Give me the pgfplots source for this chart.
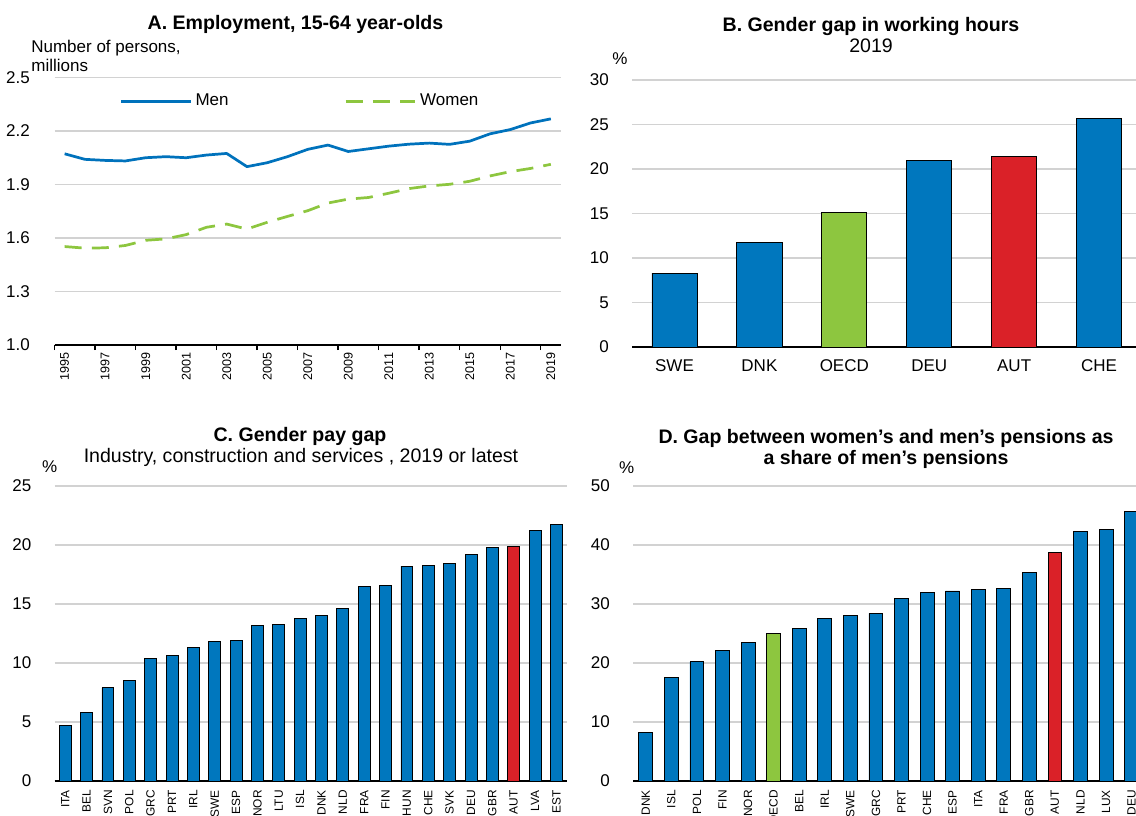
\documentclass[border=0pt]{standalone}
\usepackage{fontspec}
\setmainfont{Liberation Sans}
\usepackage{graphicx}
\usepackage{pgfplots}
\pgfplotsset{compat=1.18}
\definecolor{oblue}{RGB}{0,119,190}
\definecolor{ored}{RGB}{218,33,40}
\definecolor{ogreen}{RGB}{141,198,63}
\definecolor{lblue}{RGB}{0,114,188}
\newcommand\ttl{\bfseries\fontsize{11.5}{13}\selectfont}
\newcommand\sub{\fontsize{11.5}{13}\selectfont}
\pgfplotsset{
 oecd/.style={
  scale only axis,
  axis x line=bottom, axis y line=left,
  axis line style={-},
  y axis line style={draw=none},
  x axis line style={black, line width=0.8pt},
  ytick style={draw=none},
  ymajorgrids, grid style={gray!35, line width=0.8pt},
  yticklabel style={xshift=-8pt},
  /pgf/number format/assume math mode=true,
  tick label style={font=\fontsize{10}{12}\selectfont},
 },
 barp/.style={
  oecd, ybar, bar shift=0pt, ymin=0, xmin=-0.5,
  xtick style={draw=none},
  every axis plot/.append style={draw=black, line width=0.5pt},
 },
 rotlab/.style={xticklabel style={rotate=90, anchor=east, inner sep=1pt, font=\fontsize{7}{8}\selectfont}},
}
\begin{document}
\begin{tikzpicture}
% ---------------- Panel A
\begin{axis}[oecd, at={(32.05pt,276.36pt)}, anchor=south west,
 width=297.8pt, height=157.3pt,
 xmin=1994.5, xmax=2019.5, ymin=1, ymax=2.5,
 ytick={1,1.3,1.6,1.9,2.2,2.5},
 yticklabel style={/pgf/number format/.cd, fixed, fixed zerofill, precision=1},
 xtick={1994.5,1996.5,...,2018.5}, xticklabels={},
 tick align=outside, major tick length=3pt,
 xtick style={black, line width=0.8pt},
 extra x ticks={1995,1997,...,2019},
 extra x tick labels={1995,1997,1999,2001,2003,2005,2007,2009,2011,2013,2015,2017,2019},
 extra x tick style={major tick length=0pt, xticklabel style={rotate=90, anchor=east, inner sep=4.5pt, font=\fontsize{7.4}{9}\selectfont}},
 legend style={draw=none, fill=none, at={(0.118,0.911)}, anchor=west, legend columns=2,
   /tikz/every even column/.append style={column sep=66pt}, font=\fontsize{10}{12}\selectfont},
 legend image code/.code={\draw[#1, line width=1.6pt] (0pt,0pt) -- (41pt,0pt);},
]
\addplot[lblue, line width=1.6pt, line join=round] coordinates {
(1995,2.072) (1996,2.041) (1997,2.035) (1998,2.032) (1999,2.05) (2000,2.056) (2001,2.05) (2002,2.065) (2003,2.074) (2004,2.0) (2005,2.022) (2006,2.056) (2007,2.097) (2008,2.121) (2009,2.085) (2010,2.10) (2011,2.115) (2012,2.126) (2013,2.132) (2014,2.125) (2015,2.143) (2016,2.184) (2017,2.208) (2018,2.245) (2019,2.268)};
\addlegendentry{Men}
\addplot[ogreen, line width=1.6pt, dash pattern=on 10pt off 6pt] coordinates {
(1995,1.552) (1996,1.543) (1997,1.545) (1998,1.558) (1999,1.587) (2000,1.595) (2001,1.619) (2002,1.66) (2003,1.678) (2004,1.65) (2005,1.688) (2006,1.721) (2007,1.753) (2008,1.796) (2009,1.818) (2010,1.827) (2011,1.851) (2012,1.877) (2013,1.892) (2014,1.901) (2015,1.918) (2016,1.948) (2017,1.972) (2018,1.99) (2019,2.013)};
\addlegendentry{Women}
\end{axis}
% ---------------- Panel B
\begin{axis}[barp, at={(371.62pt,275.18pt)}, anchor=south west,
 width=299.6pt, height=157pt, bar width=26.5pt,
 xmax=5.5, ymax=30, ytick={0,5,...,30},
 xtick={0,...,5}, xticklabels={SWE,DNK,OECD,DEU,AUT,CHE},
 xticklabel style={text height=7.2pt, text depth=0pt, anchor=north, inner sep=3pt},
]
\addplot[fill=oblue] coordinates {(0,8.3) (1,11.7) (3,21.0) (5,25.7)};
\addplot[fill=ogreen] coordinates {(2,15.1)};
\addplot[fill=ored] coordinates {(4,21.4)};
\end{axis}
% ---------------- Panel C
\begin{axis}[barp, rotlab, at={(32.05pt,19.99pt)}, anchor=south west,
 width=301.4pt, height=173.5pt, bar width=7pt,
 xmax=23.5, ymax=25, ytick={0,5,...,25},
 xtick={0,...,23},
 xticklabels={ITA,BEL,SVN,POL,GRC,PRT,IRL,SWE,ESP,NOR,LTU,ISL,DNK,NLD,FRA,FIN,HUN,CHE,SVK,DEU,GBR,AUT,LVA,EST},
]
\addplot[fill=oblue] coordinates {(0,4.7) (1,5.8) (2,7.9) (3,8.5) (4,10.4) (5,10.6) (6,11.3) (7,11.8) (8,11.9) (9,13.2) (10,13.3) (11,13.8) (12,14.0) (13,14.6) (14,16.5) (15,16.6) (16,18.2) (17,18.3) (18,18.4) (19,19.2) (20,19.8) (22,21.2) (23,21.7)};
\addplot[fill=ored] coordinates {(21,19.9)};
\end{axis}
% ---------------- Panel D
\begin{axis}[barp, rotlab, at={(372.2pt,19.99pt)}, anchor=south west,
 width=300.7pt, height=173.5pt, bar width=8.2pt,
 xmax=19.5, ymax=50, ytick={0,10,...,50},
 xtick={0,...,19},
 xticklabels={DNK,ISL,POL,FIN,NOR,OECD,BEL,IRL,SWE,GRC,PRT,CHE,ESP,ITA,FRA,GBR,AUT,NLD,LUX,DEU},
]
\addplot[fill=oblue] coordinates {(0,8.3) (1,17.5) (2,20.2) (3,22.1) (4,23.4) (6,25.9) (7,27.5) (8,28.0) (9,28.4) (10,30.9) (11,32.0) (12,32.2) (13,32.4) (14,32.7) (15,35.4) (17,42.3) (18,42.7) (19,45.7)};
\addplot[fill=ogreen] coordinates {(5,25.0)};
\addplot[fill=ored] coordinates {(16,38.7)};
\end{axis}
\begin{scope}[x=0.588pt,y=0.588pt]
\node[anchor=base, font=\ttl] at (295.5,785.7) {A. Employment, 15-64 year-olds};
\node[anchor=base west, inner sep=0pt] at (31,762.3) {Number of persons,};
\node[anchor=base west, inner sep=0pt] at (31,743.3) {millions};
\node[anchor=base, font=\ttl] at (871,783) {B. Gender gap in working hours};
\node[anchor=base, font=\sub] at (871,762.3) {2019};
\node[anchor=base] at (620,750) {\%};
\node[anchor=base, font=\ttl] at (300,373.3) {C. Gender pay gap};
\node[anchor=base, font=\sub] at (301,352.3) {Industry, construction and services , 2019 or latest};
\node[anchor=base] at (49.8,342.3) {\%};
\node[anchor=base, font=\ttl] at (886,371.7) {D. Gap between women’s and men’s pensions as};
\node[anchor=base, font=\ttl] at (886,350) {a share of men’s pensions};
\node[anchor=base] at (626.7,342) {\%};
\pgfresetboundingbox
\useasboundingbox (0,0) rectangle (1136,815);
\end{scope}
\end{tikzpicture}
\end{document}
